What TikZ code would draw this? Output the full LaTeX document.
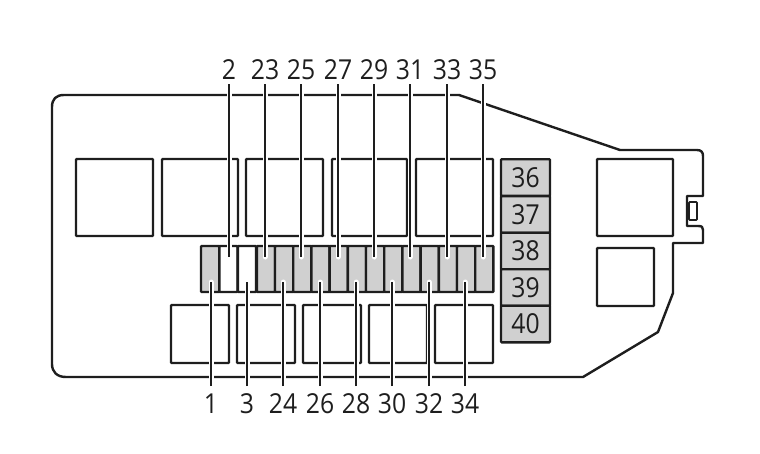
\documentclass[tikz,border=0pt]{standalone}
\usepackage{fontspec}
\setmainfont[FakeStretch=0.9]{Open Sans}
\definecolor{fusegray}{HTML}{D0D0D0}
\definecolor{ink}{HTML}{1E1E1E}
\tikzset{
  x=1pt,y=-1pt,
  shell/.style={draw=ink,line width=2.4pt,line join=round},
  box/.style={draw=ink,line width=2.4pt,rounded corners=0.8pt,inner sep=0pt,outer sep=0pt},
  fuse/.style={box,fill=fusegray,minimum width=18.2pt,minimum height=46pt},
  spare/.style={box,fill=white,minimum width=18.2pt,minimum height=46pt},
  side/.style={box,fill=fusegray,minimum width=49pt,minimum height=36.6pt,font=\fontsize{27.5}{27.5}\selectfont,text=ink},
  lab/.style={font=\fontsize{27.5}{27.5}\selectfont,text=ink,inner sep=0pt,outer sep=0pt},
  halo/.style={draw=white,line width=5pt,line cap=round},
  lead/.style={draw=ink,line width=1.7pt},
}
\begin{document}
\begin{tikzpicture}
\useasboundingbox (0,0) rectangle (760,453);
% housing
\draw[shell] (64,95) -- (459,95) -- (620,150) -- (697,150)
  .. controls (701,150) and (703,152) .. (703,156)
  -- (703,196) -- (687,196) -- (687,226) -- (698,226)
  .. controls (702,226) and (703,227) .. (703,230)
  -- (703,243) -- (673,243) -- (673,293) -- (658,332) -- (583,377) -- (66,377)
  .. controls (57,377) and (52,372) .. (52,364)
  -- (52,107) .. controls (52,99) and (56,95) .. (64,95) -- cycle;
\node[box,line width=1.7pt,minimum width=8pt,minimum height=18pt] (clip) at (693,211) {};
% relay boxes
\node[box,minimum width=77pt,minimum height=77pt] (r1) at (114.5,197.5) {};
\node[box,minimum width=76pt,minimum height=77pt] (r2) at (200,197.5) {};
\node[box,minimum width=77pt,minimum height=77pt] (r3) at (284.5,197.5) {};
\node[box,minimum width=75pt,minimum height=77pt] (r4) at (369.5,197.5) {};
\node[box,minimum width=77pt,minimum height=77pt] (r5) at (454.5,197.5) {};
\node[box,minimum width=76pt,minimum height=77pt] (r6) at (635,197.5) {};
\node[box,minimum width=57pt,minimum height=58pt] (r7) at (625.5,277) {};
\foreach \n/\x in {b1/200,b2/266,b3/332,b4/398,b5/464}
  \node[box,minimum width=58pt,minimum height=58pt] (\n) at (\x,334) {};
% fuse row
\foreach \i/\x in {1/210.1,4/265.9,5/284.1,6/302.3,7/320.5,8/338.7,9/356.9,10/375.1,11/393.3,12/411.5,13/429.7,14/447.9,15/466.1,16/484.3}
  \node[fuse] (f\i) at (\x,269) {};
\foreach \i/\x in {2/228.4,3/247}
  \node[spare] (f\i) at (\x,269) {};
% side fuses
\foreach \t/\y in {36/177.5,37/214.5,38/251,39/287.5,40/324}
  \node[side] (s\t) at (525.5,\y) {\t};
% leaders from the top
\foreach \t/\x/\e in {2/229/257,23/265/257,25/301/257,27/338/257,29/374/257,31/410/257,33/447/257,35/483/257}{
  \node[lab,anchor=base] (t\t) at (\x,79) {\t};
  \coordinate (te\t) at (\x,\e);
  \coordinate (ts\t) at (\x,84);
  \draw[halo] (ts\t) -- (te\t);
  \draw[lead] (ts\t) -- (te\t);
}
% leaders from the bottom
\foreach \t/\x/\e in {1/211/282,3/247/282,24/283/282,26/320/282,28/356/282,30/392/282,32/429/282,34/465/282}{
  \node[lab,anchor=base] (u\t) at (\x,413) {\t};
  \coordinate (ue\t) at (\x,\e);
  \coordinate (us\t) at (\x,386);
  \draw[halo] (us\t) -- (ue\t);
  \draw[lead] (us\t) -- (ue\t);
}
\end{tikzpicture}
\end{document}
